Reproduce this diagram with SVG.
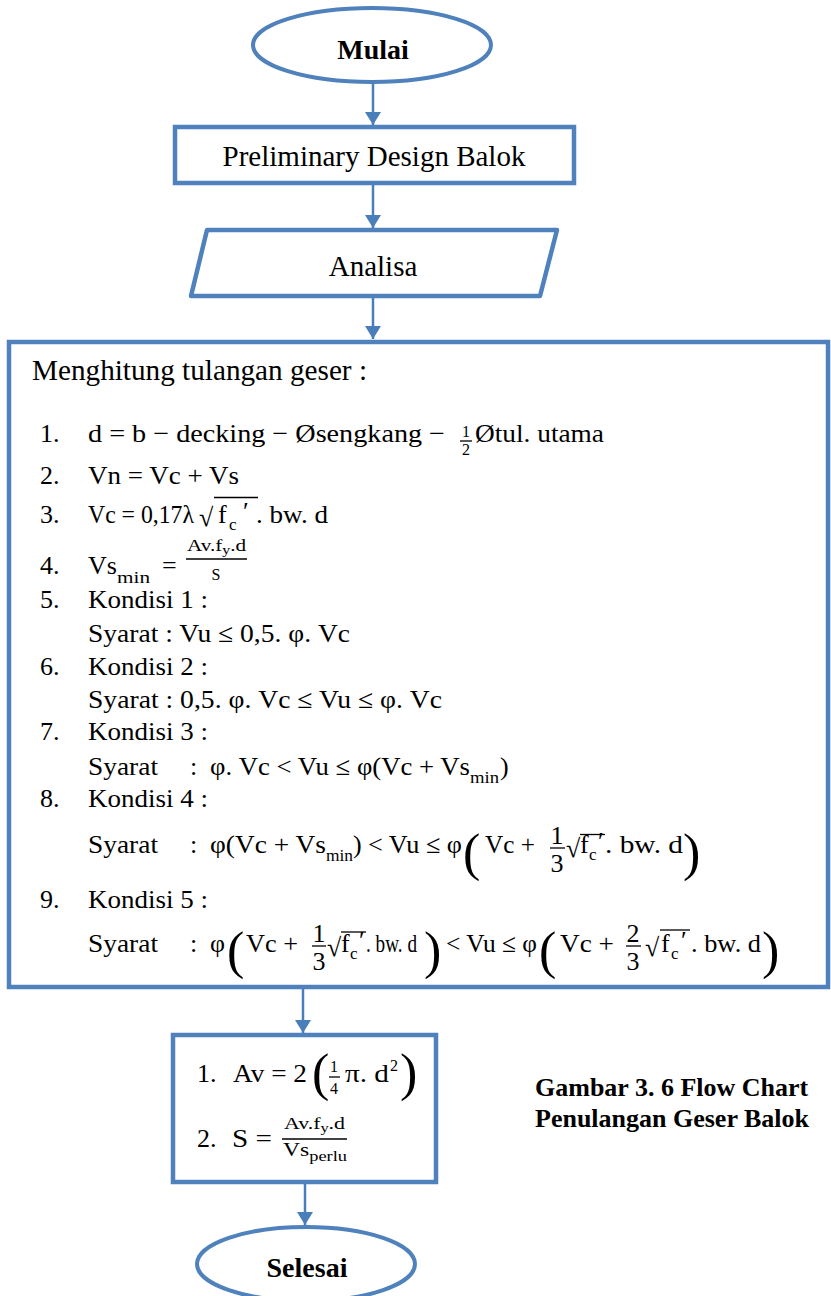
<svg xmlns="http://www.w3.org/2000/svg" width="831" height="1296" viewBox="0 0 831 1296">
<defs>
<style>
.sh{fill:#fff;stroke:#4F81BD;stroke-width:4.5}
.el{fill:#fff;stroke:#4F81BD;stroke-width:4}
.cn{stroke:#4A7EBB;stroke-width:2.5;fill:none;marker-end:url(#ah)}
text{font-family:"Liberation Serif","Times New Roman",serif;fill:#000}
.t29{font-size:29px}
.bd{font-size:28px;font-weight:bold}
.m{font-size:26px}
.sub{font-size:17px}
.fr{font-size:16px}
.big{font-size:52px}
.bar{stroke:#000;stroke-width:1.3}
.cap{font-size:26px;font-weight:bold}
</style>
<marker id="ah" viewBox="0 0 13 16" refX="13" refY="8" markerWidth="13" markerHeight="16" markerUnits="userSpaceOnUse" orient="auto">
<path d="M0,0 L13,8 L0,16 z" fill="#4A7EBB"/>
</marker>
</defs>

<g id="connectors">
<line class="cn" x1="373" y1="83" x2="373" y2="125"/>
<line class="cn" x1="373" y1="185" x2="373" y2="228"/>
<line class="cn" x1="373" y1="298" x2="373" y2="339"/>
<line class="cn" x1="303" y1="989" x2="303" y2="1033"/>
<line class="cn" x1="305" y1="1184" x2="305" y2="1225"/>
</g>

<g id="mulai">
<ellipse class="el" cx="372" cy="45" rx="119" ry="37"/>
<text class="bd" x="373" y="59" text-anchor="middle">Mulai</text>
</g>

<g id="preliminary">
<rect class="sh" x="175" y="127" width="399" height="56"/>
<text class="t29" x="374" y="166" text-anchor="middle">Preliminary Design Balok</text>
</g>

<g id="analisa">
<polygon class="sh" points="207,230 557,230 540,296 191,296" stroke-linejoin="round"/>
<text class="t29" x="373" y="276" text-anchor="middle">Analisa</text>
</g>

<g id="menghitung">
<rect class="sh" x="9" y="342" width="819" height="645"/>
<text class="t29" x="32" y="380" textLength="335" lengthAdjust="spacingAndGlyphs">Menghitung tulangan geser :</text>

<!-- 1 -->
<text class="m" x="40" y="442">1.</text>
<text class="m" x="88" y="442" textLength="357" lengthAdjust="spacingAndGlyphs">d = b − decking − Øsengkang −</text>
<text class="fr" x="466" y="437" text-anchor="middle" font-size="15">1</text>
<line class="bar" x1="460" y1="441" x2="472" y2="441"/>
<text class="fr" x="466" y="455" text-anchor="middle" font-size="15">2</text>
<text class="m" x="475" y="442" textLength="129" lengthAdjust="spacingAndGlyphs">Øtul. utama</text>

<!-- 2 -->
<text class="m" x="40" y="484">2.</text>
<text class="m" x="88" y="484" textLength="151" lengthAdjust="spacingAndGlyphs">Vn = Vc + Vs</text>

<!-- 3 -->
<text class="m" x="40" y="523">3.</text>
<text class="m" x="88" y="523" textLength="106" lengthAdjust="spacingAndGlyphs">Vc = 0,17λ</text>
<text class="m" x="199" y="526" font-size="30">√</text>
<line class="bar" x1="214" y1="497.5" x2="258" y2="497.5"/>
<text class="m" x="218" y="523">f</text>
<text class="sub" x="229" y="530">c</text>
<text class="m" x="243" y="520">′</text>
<text class="m" x="256" y="523" textLength="72" lengthAdjust="spacingAndGlyphs">. bw. d</text>

<!-- 4 -->
<text class="m" x="40" y="574">4.</text>
<text class="m" x="88" y="574" textLength="29" lengthAdjust="spacingAndGlyphs">Vs</text>
<text class="sub" x="117" y="583" textLength="33" lengthAdjust="spacingAndGlyphs">min</text>
<text class="m" x="162" y="574">=</text>
<text class="fr" x="187" y="551" textLength="59" lengthAdjust="spacingAndGlyphs">Av.f<tspan font-size="12" dy="3">y</tspan><tspan dy="-3">.d</tspan></text>
<line class="bar" x1="186" y1="559" x2="247" y2="559"/>
<text class="fr" x="216" y="580" text-anchor="middle">S</text>

<!-- 5 -->
<text class="m" x="40" y="608">5.</text>
<text class="m" x="88" y="608" textLength="120" lengthAdjust="spacingAndGlyphs">Kondisi 1 :</text>
<text class="m" x="88" y="642" textLength="262" lengthAdjust="spacingAndGlyphs">Syarat : Vu ≤ 0,5. φ. Vc</text>

<!-- 6 -->
<text class="m" x="40" y="675">6.</text>
<text class="m" x="88" y="675" textLength="120" lengthAdjust="spacingAndGlyphs">Kondisi 2 :</text>
<text class="m" x="88" y="708" textLength="354" lengthAdjust="spacingAndGlyphs">Syarat : 0,5. φ. Vc ≤ Vu ≤ φ. Vc</text>

<!-- 7 -->
<text class="m" x="40" y="740">7.</text>
<text class="m" x="88" y="740" textLength="120" lengthAdjust="spacingAndGlyphs">Kondisi 3 :</text>
<text class="m" x="88" y="775" textLength="70" lengthAdjust="spacingAndGlyphs">Syarat</text>
<text class="m" x="190" y="775">:</text>
<text class="m" x="210" y="775" textLength="260" lengthAdjust="spacingAndGlyphs">φ. Vc &lt; Vu ≤ φ(Vc + Vs</text>
<text class="sub" x="470" y="783" textLength="29" lengthAdjust="spacingAndGlyphs">min</text>
<text class="m" x="500" y="775">)</text>

<!-- 8 -->
<text class="m" x="40" y="807">8.</text>
<text class="m" x="88" y="807" textLength="120" lengthAdjust="spacingAndGlyphs">Kondisi 4 :</text>
<text class="m" x="88" y="853" textLength="70" lengthAdjust="spacingAndGlyphs">Syarat</text>
<text class="m" x="190" y="853">:</text>
<text class="m" x="210" y="853" textLength="116" lengthAdjust="spacingAndGlyphs">φ(Vc + Vs</text>
<text class="sub" x="326" y="861" textLength="27" lengthAdjust="spacingAndGlyphs">min</text>
<text class="m" x="353" y="853">)</text>
<text class="m" x="368" y="853" textLength="94" lengthAdjust="spacingAndGlyphs">&lt; Vu ≤ φ</text>
<text class="big" x="463" y="870">(</text>
<text class="m" x="485" y="853" textLength="50" lengthAdjust="spacingAndGlyphs">Vc +</text>
<text class="m" x="557" y="844" text-anchor="middle">1</text>
<line class="bar" x1="550" y1="848" x2="565" y2="848"/>
<text class="m" x="557" y="872" text-anchor="middle">3</text>
<text class="m" x="566" y="857" font-size="30">√</text>
<line class="bar" x1="580" y1="834.5" x2="605" y2="834.5"/>
<text class="m" x="580" y="853">f</text>
<text class="sub" x="589" y="860">c</text>
<text class="m" x="598" y="850">′</text>
<text class="m" x="605" y="853" textLength="78" lengthAdjust="spacingAndGlyphs">. bw. d</text>
<text class="big" x="683" y="870">)</text>

<!-- 9 -->
<text class="m" x="40" y="908">9.</text>
<text class="m" x="88" y="908" textLength="120" lengthAdjust="spacingAndGlyphs">Kondisi 5 :</text>
<text class="m" x="88" y="952" textLength="70" lengthAdjust="spacingAndGlyphs">Syarat</text>
<text class="m" x="190" y="952">:</text>
<text class="m" x="210" y="952">φ</text>
<text class="big" x="227" y="968">(</text>
<text class="m" x="246" y="952" textLength="52" lengthAdjust="spacingAndGlyphs">Vc +</text>
<text class="m" x="319" y="942" text-anchor="middle">1</text>
<line class="bar" x1="312" y1="946" x2="326" y2="946"/>
<text class="m" x="319" y="970" text-anchor="middle">3</text>
<text class="m" x="327" y="956" font-size="30">√</text>
<line class="bar" x1="341" y1="932" x2="366" y2="932"/>
<text class="m" x="341" y="952">f</text>
<text class="sub" x="350" y="959">c</text>
<text class="m" x="359" y="949">′</text>
<text class="m" x="366" y="952" textLength="51" lengthAdjust="spacingAndGlyphs">. bw. d</text>
<text class="big" x="424" y="968">)</text>
<text class="m" x="446" y="952" textLength="91" lengthAdjust="spacingAndGlyphs">&lt; Vu ≤ φ</text>
<text class="big" x="539" y="968">(</text>
<text class="m" x="560" y="952" textLength="54" lengthAdjust="spacingAndGlyphs">Vc +</text>
<text class="m" x="633" y="942" text-anchor="middle">2</text>
<line class="bar" x1="626" y1="946" x2="641" y2="946"/>
<text class="m" x="633" y="970" text-anchor="middle">3</text>
<text class="m" x="645" y="956" font-size="30">√</text>
<line class="bar" x1="660" y1="930" x2="690" y2="930"/>
<text class="m" x="661" y="952">f</text>
<text class="sub" x="671" y="959">c</text>
<text class="m" x="681" y="949">′</text>
<text class="m" x="691" y="952" textLength="70" lengthAdjust="spacingAndGlyphs">. bw. d</text>
<text class="big" x="762" y="968">)</text>
</g>

<g id="rumus">
<rect class="sh" x="173" y="1035" width="263" height="147"/>
<text class="m" x="197" y="1082">1.</text>
<text class="m" x="233" y="1082" textLength="74" lengthAdjust="spacingAndGlyphs">Av = 2</text>
<text class="big" x="312" y="1090" font-size="46">(</text>
<text class="fr" x="334" y="1072" text-anchor="middle">1</text>
<line class="bar" x1="329" y1="1077" x2="340" y2="1077"/>
<text class="fr" x="334" y="1094" text-anchor="middle">4</text>
<text class="m" x="345" y="1082" textLength="44" lengthAdjust="spacingAndGlyphs">π. d</text>
<text class="fr" x="390" y="1071">2</text>
<text class="big" x="400" y="1090" font-size="46">)</text>
<text class="m" x="197" y="1147">2.</text>
<text class="m" x="232" y="1147" textLength="40" lengthAdjust="spacingAndGlyphs">S =</text>
<text class="fr" x="284" y="1129" textLength="61" lengthAdjust="spacingAndGlyphs">Av.f<tspan font-size="12" dy="3">y</tspan><tspan dy="-3">.d</tspan></text>
<line class="bar" x1="282" y1="1139" x2="347" y2="1139"/>
<text x="283" y="1156" font-size="18" textLength="64" lengthAdjust="spacingAndGlyphs">Vs<tspan font-size="14" dy="5">perlu</tspan></text>
</g>

<g id="caption">
<text class="cap" x="535" y="1096">Gambar 3. 6 Flow Chart</text>
<text class="cap" x="535" y="1127">Penulangan Geser Balok</text>
</g>

<g id="selesai">
<ellipse class="el" cx="306" cy="1264" rx="109" ry="37"/>
<text class="bd" x="307" y="1277" text-anchor="middle">Selesai</text>
</g>
</svg>
